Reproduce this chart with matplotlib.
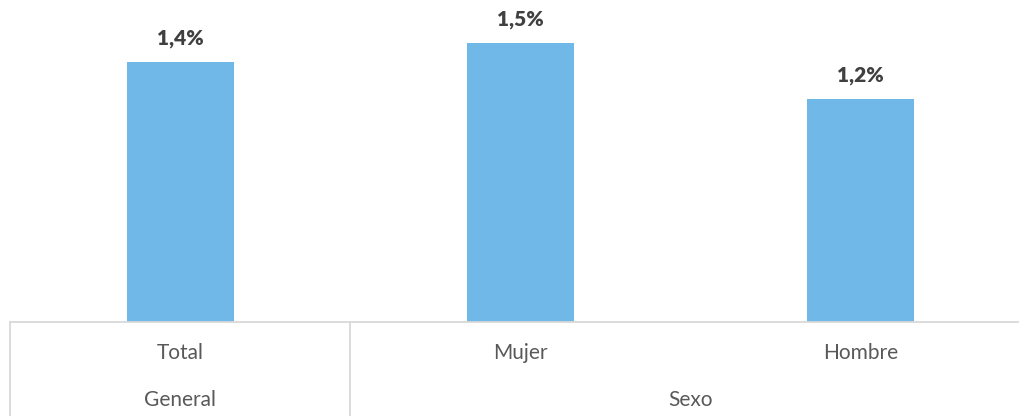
import matplotlib
matplotlib.use("Agg")
import matplotlib.pyplot as plt
import matplotlib.transforms as mtransforms

# data
categorias = ['Total', 'Mujer', 'Hombre']
valores = [1.4, 1.5, 1.2]
etiquetas = ['1,4%', '1,5%', '1,2%']
grupos = ['General', 'Sexo']
grupo_pos = [0, 1.5]   # centre of each group on the category axis
separadores = [-0.5, 0.5]

bar_color = '#70B8E8'
line_color = '#D9D9D9'
text_color = '#595959'
plt.rcParams['font.family'] = ['Lato', 'DejaVu Sans']

fig = plt.figure(figsize=(10.2, 4.16), dpi=100)
W, H = 1020, 416
ax = fig.add_axes([10 / W, (H - 322) / H, 1021 / W, 322 / H])

x = range(len(categorias))
ax.bar(x, valores, width=0.315, color=bar_color)
ax.set_xlim(-0.5, 2.5)
ax.set_ylim(0, 1.734)

for i, (v, lab) in enumerate(zip(valores, etiquetas)):
    ax.annotate(lab, (i, v), xytext=(0, 24), textcoords='offset pixels',
                ha='center', va='center', fontsize=15, fontweight='heavy',
                color='#404040')

for s in ['top', 'right', 'left']:
    ax.spines[s].set_visible(False)
ax.spines['bottom'].set_color(line_color)
ax.spines['bottom'].set_linewidth(1.3)
ax.set_yticks([])
ax.set_xticks([])

trans = mtransforms.blended_transform_factory(ax.transData, ax.transAxes)
for i, c in enumerate(categorias):
    ax.text(i, -31 / 322, c, transform=trans, ha='center', va='center',
            fontsize=15, color=text_color)
for g, p in zip(grupos, grupo_pos):
    ax.text(p, -78 / 322, g, transform=trans, ha='center', va='center',
            fontsize=15, color=text_color)
for s in separadores:
    ax.plot([s, s], [0, -100 / 322], transform=trans, color=line_color,
            lw=1.3, clip_on=False)

fig.savefig('out.png', dpi=100)
